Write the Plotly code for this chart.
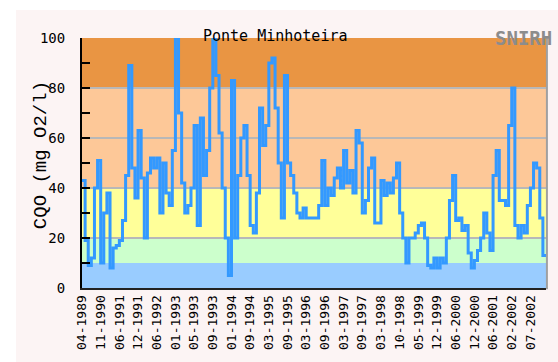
import plotly.graph_objects as go

# Sample labels shown every sixth record along the horizontal axis
date_labels = [
    "04-1989", "11-1990", "06-1991", "12-1991", "06-1992", "01-1993",
    "05-1993", "09-1993", "01-1994", "09-1994", "03-1995", "09-1995",
    "03-1996", "09-1996", "03-1997", "09-1997", "03-1998", "10-1998",
    "05-1999", "12-1999", "06-2000", "12-2000", "06-2001", "02-2002",
    "07-2002",
]
label_step = 6

# CQO measurements (mg O2/l), one per sampling campaign
cqo_values = [
    43, 19, 9, 12, 40, 51, 10, 30, 38, 8,
    16, 17, 19, 27, 45, 89, 48, 36, 63, 44,
    20, 46, 52, 48, 52,
    30, 50, 38, 33, 55,
    100, 70, 42, 30, 33, 40, 65, 25, 68, 45,
    55, 80, 100, 85, 62, 40, 20, 5, 83, 20,
    45, 60, 65, 45, 25, 22, 38, 72, 57, 65,
    90, 92, 72, 50, 28, 85, 50, 45, 38, 30,
    28, 32, 28, 28, 28,
    28, 33, 51, 33, 40,
    37, 44, 48, 40, 55, 42, 47, 38, 63, 58,
    30, 35, 48, 52, 26, 26, 43, 37, 42, 38,
    44, 50, 30, 20, 10, 20, 20, 22, 25, 26,
    20, 9, 8, 12, 8, 12, 10, 20, 35, 45,
    27, 28, 23, 25, 14,
    8, 11, 15, 20, 30,
    22, 15, 45, 55, 35, 35, 33, 65, 80, 25,
    20, 25, 22, 33, 40, 50, 48, 28, 13,
]

# Quality classes (lower limit, upper limit) and their band colours
class_limits = [(0, 10), (10, 20), (20, 40), (40, 80), (80, 100)]
class_colors = ["#99ccff", "#ccffcc", "#ffff99", "#fdc898", "#e99543"]

n = len(cqo_values)
x_idx = list(range(n)) + [n]
y_vals = cqo_values + [cqo_values[-1]]

fig = go.Figure()
fig.add_trace(go.Scatter(
    x=x_idx, y=y_vals, mode="lines",
    line=dict(color="#3399ff", width=3, shape="hv"),
    hoverinfo="skip", showlegend=False,
))

shapes = [
    # light panel behind the whole chart
    dict(type="rect", xref="paper", yref="paper",
         x0=-0.1422, x1=1.03, y0=-0.31, y1=1.112,
         fillcolor="#fcf4f4", line=dict(width=0), layer="below"),
]
for (lo, hi), col in zip(class_limits, class_colors):
    shapes.append(dict(type="rect", xref="x", yref="y",
                       x0=0, x1=n, y0=lo, y1=hi,
                       fillcolor=col, line=dict(width=0), layer="below"))
# thin grey frame on the right
shapes.append(dict(type="line", xref="paper", yref="paper",
                   x0=1.002, x1=1.002, y0=-0.005, y1=1,
                   line=dict(color="#a0a0a0", width=2)))
fig.update_layout(shapes=shapes)

mono = "DejaVu Sans Mono"
fig.update_layout(
    width=558, height=362,
    margin=dict(l=82, r=12, t=38, b=74),
    paper_bgcolor="white",
    plot_bgcolor="rgba(0,0,0,0)",
    xaxis=dict(
        range=[0, n], showgrid=False, zeroline=False,
        tickmode="array",
        tickvals=[j * label_step for j in range(len(date_labels))],
        ticktext=date_labels, tickangle=-90, ticks="",
        tickfont=dict(family=mono, size=13, color="black"),
        showline=True, linecolor="#222222", linewidth=2,
    ),
    yaxis=dict(
        range=[0, 100], dtick=20, tick0=0,
        showgrid=True, gridcolor="#b8b8b8", gridwidth=1.5,
        zeroline=False,
        ticks="inside", ticklen=8, tickwidth=2, tickcolor="black",
        tickfont=dict(family=mono, size=14, color="black"),
        ticklabelstandoff=12,
        showline=True, linecolor="black", linewidth=2,
        minor=dict(dtick=10, ticks="inside", ticklen=8, tickwidth=2,
                   tickcolor="black", showgrid=False),
    ),
    annotations=[
        dict(text="Ponte Minhoteira", xref="paper", yref="paper",
             x=0.418, y=1.052, showarrow=False,
             font=dict(family=mono, size=15, color="black")),
        dict(text="<b>SNIRH</b>", xref="paper", yref="paper",
             x=1.018, y=1.052, xanchor="right", showarrow=False,
             font=dict(family=mono, size=19, color="#8c8c8c")),
        dict(text="CQO (mg O2/l)", xref="paper", yref="paper",
             x=-0.116, y=0.532, showarrow=False, textangle=-90,
             font=dict(family="Liberation Mono", size=19, color="black")),
    ],
)

fig.write_html("out.html")
